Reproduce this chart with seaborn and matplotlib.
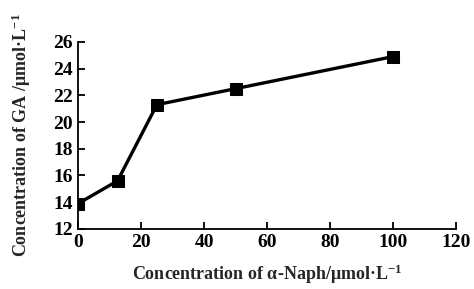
import numpy as np
import pandas as pd
import matplotlib.pyplot as plt
import seaborn as sns

# data
naph = [0, 12.5, 25, 50, 100]
ga = [13.9, 15.6, 21.3, 22.5, 24.9]
xticks = [0, 20, 40, 60, 80, 100, 120]
yticks = [12, 14, 16, 18, 20, 22, 24, 26]

df = pd.DataFrame({'naph': naph, 'ga': ga})

sns.set_style('ticks')
plt.rcParams['font.family'] = ['Liberation Serif', 'DejaVu Serif']
plt.rcParams['font.weight'] = 'bold'
plt.rcParams['mathtext.fontset'] = 'custom'
plt.rcParams['mathtext.rm'] = 'Liberation Serif:bold'
plt.rcParams['mathtext.bf'] = 'Liberation Serif:bold'
plt.rcParams['mathtext.it'] = 'Liberation Serif:bold'

fig = plt.figure(figsize=(4.74, 2.89), dpi=100)
ax = fig.add_axes([0.165, 0.208, 0.797, 0.647])

sns.lineplot(data=df, x='naph', y='ga', ax=ax, color='black', lw=2.4,
             marker='s', markersize=8, markeredgecolor='black', markerfacecolor='black')

ax.set_xlim(0, 120)
ax.set_ylim(12, 26)
ax.set_xticks(xticks)
ax.set_yticks(yticks)
ax.tick_params(direction='in', length=5, width=1.3, labelsize=14, colors='black', pad=4)
for lab in ax.get_xticklabels() + ax.get_yticklabels():
    lab.set_fontweight('bold')
for s in ['left', 'bottom']:
    ax.spines[s].set_linewidth(1.3)
    ax.spines[s].set_color('black')
sns.despine(ax=ax)

ax.set_xlabel('Concentration of α-Naph/μmol·L$^{-1}$', fontsize=13, fontweight='bold', labelpad=8)
ax.set_ylabel('Concentration of GA /μmol·L$^{-1}$', fontsize=13, fontweight='bold', labelpad=14)

fig.savefig('out.png', dpi=100)
